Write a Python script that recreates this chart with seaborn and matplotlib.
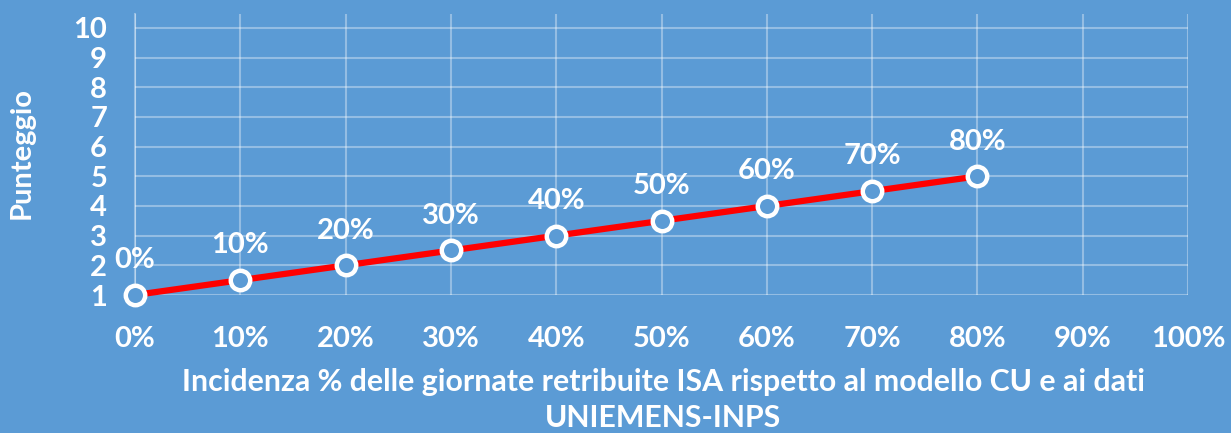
import pandas as pd
import numpy as np
import matplotlib.pyplot as plt
import seaborn as sns
from matplotlib.ticker import PercentFormatter

# Data
incidenza = [0.0, 0.1, 0.2, 0.3, 0.4, 0.5, 0.6, 0.7, 0.8]
punteggio = [1, 1.5, 2, 2.5, 3, 3.5, 4, 4.5, 5]
etichette = ["0%", "10%", "20%", "30%", "40%", "50%", "60%", "70%", "80%"]

df = pd.DataFrame({"incidenza": incidenza, "punteggio": punteggio})

bg = "#5B9BD5"
sns.set_style("white")
plt.rcParams["font.family"] = ["Lato", "DejaVu Sans"]
plt.rcParams["font.weight"] = "bold"
fs = 21

fig = plt.figure(figsize=(12.31, 4.33), dpi=100, facecolor=bg)
ax = fig.add_axes([135 / 1231, 1 - 295 / 433, (1188 - 135) / 1231, (295 - 14) / 433])
ax.set_facecolor(bg)

sns.lineplot(data=df, x="incidenza", y="punteggio", ax=ax, color="#FF0000",
             linewidth=4.5, marker="o", markersize=14, markerfacecolor=bg,
             markeredgecolor="white", markeredgewidth=3.2, zorder=3, clip_on=False)

# Data labels above the points
for x, y, t in zip(incidenza, punteggio, etichette):
    ax.annotate(t, (x, y), xytext=(0, 25), textcoords="offset points",
                ha="center", va="center", color="white", fontsize=fs, fontweight="bold")

ax.set_xlim(0, 1)
ax.set_ylim(1, 10.47)
ax.set_xticks(np.arange(0, 1.01, 0.1))
ax.set_yticks(range(1, 11))
ax.xaxis.set_major_formatter(PercentFormatter(1.0, decimals=0))
ax.set_xlabel("")
ax.set_ylabel("")
ax.grid(True, color="white", alpha=0.35, linewidth=1.5)
for s in ax.spines.values():
    s.set_visible(False)
ax.spines["left"].set_visible(True)
ax.spines["left"].set_color((1, 1, 1, 0.35))
ax.spines["left"].set_linewidth(1.5)
ax.tick_params(axis="both", colors="white", labelsize=fs, length=0)
ax.tick_params(axis="x", pad=22)
ax.tick_params(axis="y", pad=20)
for lbl in ax.get_xticklabels() + ax.get_yticklabels():
    lbl.set_fontweight("bold")

fig.text(663 / 1231, 1 - 400 / 433,
         "Incidenza % delle giornate retribuite ISA rispetto al modello CU e ai dati\nUNIEMENS-INPS",
         ha="center", va="center", color="white", fontsize=21.8, fontweight="bold", linespacing=1.35)
fig.text(22 / 1231, 1 - 153 / 433, "Punteggio", rotation=90, ha="center", va="center",
         color="white", fontsize=21, fontweight="bold")

fig.savefig("out.png", dpi=100, facecolor=bg)
